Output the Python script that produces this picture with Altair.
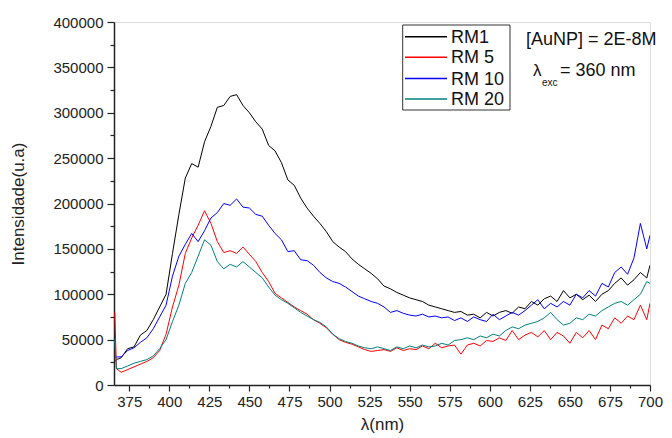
import altair as alt
import pandas as pd

wavelength = [366, 367] + list(range(370, 699, 4)) + [700]

rm1 = [26000, 28000, 30000, 40000, 42000, 55000, 60000, 72000, 86000, 100000,
       145000, 188000, 228000, 244000, 240000, 268000, 285000, 306000, 308000, 318000,
       320000, 308000, 300000, 290000, 282000, 264000, 258000, 245000, 226000, 220000,
       206000, 195000, 186000, 178000, 169000, 158000, 152000, 147000, 139000, 133000,
       128000, 123000, 117000, 109000, 106000, 102000, 99000, 96000, 94000, 92000,
       88000, 86000, 84000, 82000, 80000, 81000, 77000, 78000, 74000, 80000,
       76000, 80000, 82000, 79000, 86000, 84000, 92000, 88000, 95000, 98000,
       92000, 104000, 96000, 100000, 94000, 99000, 92000, 100000, 104000, 112000,
       118000, 110000, 116000, 124000, 118000, 132000]

rm5 = [80000, 18000, 14000, 17000, 20000, 23000, 26000, 30000, 38000, 56000,
       86000, 110000, 145000, 162000, 176000, 192000, 178000, 158000, 146000, 148000,
       145000, 152000, 144000, 136000, 124000, 114000, 101000, 96000, 91000, 86000,
       82000, 78000, 72000, 68000, 63000, 56000, 50000, 47000, 45000, 42000,
       39000, 37000, 38000, 39000, 37000, 41000, 38000, 40000, 39000, 43000,
       40000, 46000, 41000, 43000, 44000, 34000, 44000, 46000, 43000, 49000,
       48000, 52000, 49000, 60000, 50000, 55000, 58000, 53000, 60000, 50000,
       58000, 54000, 46000, 58000, 52000, 60000, 50000, 66000, 62000, 74000,
       68000, 76000, 72000, 88000, 72000, 90000]

rm10 = [30000, 31000, 31000, 38000, 41000, 47000, 52000, 62000, 75000, 88000,
        120000, 142000, 155000, 167000, 158000, 170000, 184000, 190000, 200000, 198000,
        205000, 196000, 195000, 188000, 186000, 176000, 167000, 160000, 147000, 148000,
        138000, 137000, 132000, 124000, 118000, 114000, 112000, 108000, 103000, 98000,
        95000, 92000, 90000, 86000, 80000, 82000, 79000, 77000, 76000, 78000,
        75000, 76000, 74000, 75000, 71000, 74000, 70000, 75000, 72000, 70000,
        78000, 72000, 76000, 80000, 77000, 82000, 88000, 94000, 84000, 90000,
        86000, 92000, 88000, 100000, 96000, 104000, 98000, 112000, 108000, 124000,
        130000, 122000, 140000, 178000, 150000, 165000]

rm20 = [50000, 18000, 18000, 21000, 24000, 26000, 28000, 32000, 40000, 50000,
        70000, 88000, 112000, 124000, 142000, 160000, 154000, 136000, 128000, 133000,
        130000, 136000, 130000, 124000, 118000, 108000, 99000, 94000, 90000, 85000,
        80000, 76000, 72000, 69000, 64000, 56000, 51000, 48000, 46000, 43000,
        41000, 40000, 42000, 40000, 38000, 42000, 40000, 43000, 41000, 44000,
        42000, 43000, 46000, 44000, 49000, 50000, 52000, 50000, 54000, 52000,
        56000, 54000, 60000, 64000, 62000, 66000, 68000, 70000, 74000, 80000,
        72000, 66000, 68000, 74000, 72000, 78000, 76000, 82000, 86000, 90000,
        92000, 88000, 94000, 100000, 114000, 112000]

series_names = ["RM1", "RM 5", "RM 10", "RM 20"]
series_colors = ["#000000", "#ff0000", "#0000ff", "#008080"]

x_major = [375, 400, 425, 450, 475, 500, 525, 550, 575, 600, 625, 650, 675, 700]
x_minor = [387.5, 412.5, 437.5, 462.5, 487.5, 512.5, 537.5, 562.5, 587.5, 612.5, 637.5, 662.5, 687.5]
y_major = [0, 50000, 100000, 150000, 200000, 250000, 300000, 350000, 400000]
y_minor = [25000, 75000, 125000, 175000, 225000, 275000, 325000, 375000]

note1 = "[AuNP] = 2E-8M"
note2_sym = "λ"
note2_sub = "exc"
note2_rest = "= 360 nm"

rows = []
for name, vals in zip(series_names, [rm1, rm5, rm10, rm20]):
    for w, v in zip(wavelength, vals):
        rows.append({"wl": w, "val": v, "series": name})
df = pd.DataFrame(rows)

FONT = "Liberation Sans"
xscale = alt.Scale(domain=[365.5, 700], nice=False, zero=False)
yscale = alt.Scale(domain=[0, 400000], nice=False)

lines = alt.Chart(df).mark_line(strokeWidth=1, clip=True).encode(
    x=alt.X("wl:Q", scale=xscale,
            axis=alt.Axis(values=x_major, title="λ(nm)", grid=False, tickSize=6,
                          labelFontSize=15, labelFont=FONT, labelColor="#222",
                          labelPadding=3, titleFont=FONT, titleFontSize=17,
                          titleFontWeight="normal", titlePadding=7, titleColor="#222",
                          domainColor="#222", domainWidth=1.5, tickColor="#222",
                          tickWidth=1.2, orient="bottom", labelFlush=False)),
    y=alt.Y("val:Q", scale=yscale,
            axis=alt.Axis(values=y_major, format="d", title="Intensidade(u.a)", grid=False,
                          tickSize=7, labelFontSize=15, labelFont=FONT, labelColor="#222",
                          labelPadding=4, titleFont=FONT, titleFontSize=17,
                          titleFontWeight="normal", titlePadding=25, titleColor="#222",
                          domainColor="#222", domainWidth=1.5, tickColor="#222",
                          tickWidth=1.2, orient="left")),
    color=alt.Color("series:N",
                    scale=alt.Scale(domain=series_names, range=series_colors),
                    sort=series_names, legend=None),
    order=alt.Order("wl:Q"),
    detail="series:N",
)

minor = alt.Chart(df).mark_point(opacity=0).encode(
    x=alt.X("wl:Q", scale=xscale,
            axis=alt.Axis(values=x_minor, labels=False, domain=False, grid=False,
                          tickSize=3, tickColor="#222", tickWidth=1.2, title=None,
                          orient="bottom")),
    y=alt.Y("val:Q", scale=yscale,
            axis=alt.Axis(values=y_minor, labels=False, domain=False, grid=False,
                          tickSize=4, tickColor="#222", tickWidth=1.2, title=None,
                          orient="left")),
)

one = pd.DataFrame({"a": [0]})

# legend box (drawn by hand to match the compact original legend)
legend_box = alt.Chart(one).mark_rect(fill="white", stroke="#333", strokeWidth=1).encode(
    x=alt.value(288.7), x2=alt.value(396), y=alt.value(3), y2=alt.value(88))
legend_layers = [legend_box]
row_y = [14.7, 35.3, 56.5, 77]
for name, col, ry in zip(series_names, series_colors, row_y):
    legend_layers.append(
        alt.Chart(one).mark_rule(color=col, strokeWidth=1.5).encode(
            x=alt.value(291), x2=alt.value(333), y=alt.value(ry)))
    legend_layers.append(
        alt.Chart(one).mark_text(align="left", baseline="middle", fontSize=18,
                                 font=FONT, color="#111").encode(
            x=alt.value(337), y=alt.value(ry + 1), text=alt.value(name)))

t1 = alt.Chart(one).mark_text(align="left", baseline="middle", fontSize=18,
                              font=FONT, color="#111").encode(
    x=alt.value(412), y=alt.value(18), text=alt.value(note1))
t2 = alt.Chart(one).mark_text(align="left", baseline="middle", fontSize=17,
                              font=FONT, color="#111").encode(
    x=alt.value(419), y=alt.value(49), text=alt.value(note2_sym))
t3 = alt.Chart(one).mark_text(align="left", baseline="middle", fontSize=10,
                              font=FONT, color="#111").encode(
    x=alt.value(428), y=alt.value(61), text=alt.value(note2_sub))
t4 = alt.Chart(one).mark_text(align="left", baseline="middle", fontSize=18,
                              font=FONT, color="#111").encode(
    x=alt.value(446), y=alt.value(49), text=alt.value(note2_rest))

chart = alt.layer(lines, minor, *legend_layers, t1, t2, t3, t4).resolve_axis(
    x="independent", y="independent"
).properties(
    width=536, height=363,
    autosize="none",
    padding={"left": 106, "top": 14, "right": 14, "bottom": 53},
).configure_view(stroke=None).configure(background="white")

chart.save("out.html", embed_options={"renderer": "svg", "actions": False})
